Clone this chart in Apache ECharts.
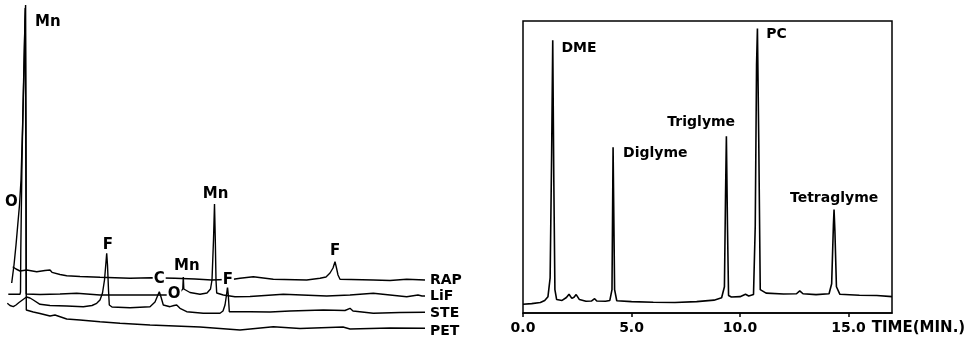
<!DOCTYPE html>
<html>
<head>
    <meta charset="UTF-8">
    <title>Spectra and chromatogram</title>
    <script src="https://cdn.jsdelivr.net/npm/echarts@6/dist/echarts.min.js"></script>
    <style>
        html, body { margin: 0; padding: 0; background: #fff; }
        #main { width: 976px; height: 343px; }
    </style>
</head>
<body>
    <div id="main"></div>
    <script type="text/javascript">
        // left panel: X-ray spectra, [channel, counts]
        var rapTrace = [[12.7,76.3],[16,74],[20,72],[26.7,73],[36.7,71.3],[45,72.5],[50,73],[52,70.7],[60,68.5],[66.7,67.3],[80,66.5],[100,65.7],[130,64.7],[151.7,65.3],[175,64.7],[195,64],[211.7,63],[233.3,63.7],[240,64.7],[253.3,66.3],[273.3,63.7],[306.7,63],[320,64.7],[326,66],[330,70],[333,75],[335,81.3],[336.5,75],[338,68],[340,63.7],[373.3,63],[390,62.5],[406.7,63.7],[425,63]];
        var lifTrace = [[8.3,48.7],[20,48.7],[20.5,51],[20.8,93],[22,183],[23.5,258],[25,323],[25.6,338],[26,223],[26.2,49],[26.7,48],[40,48.5],[60,49],[76.7,49.7],[78,48.5],[100,48],[120,48],[156.7,48],[170,48],[180,51],[182.8,54],[183.3,66],[183.8,54],[190,50.5],[200,48.7],[207,50],[210.5,54],[212,63],[213.5,103],[214.5,139],[215.3,103],[216,63],[216.7,50],[218,48],[223.3,48],[235,46.3],[250,46.5],[283.3,48.7],[326.7,47],[350,48],[373.3,49.7],[390,48],[406.7,46.3],[418,48],[420,49],[422,47],[425,47]];
        var steTrace = [[7.3,39.7],[10,37.5],[13.3,36.3],[16,38],[19,40.5],[20.5,42.5],[26.5,46],[30,45],[33.3,43],[40,38.7],[50,37.5],[66.7,37],[83.3,36.3],[92,37.5],[96.7,39.7],[100,43],[102.5,50],[104.5,63],[106,81],[106.7,89.7],[107.5,78],[108.5,53],[109.3,38],[112,36],[130,35.3],[150,36.3],[155,41],[157.5,47],[159.3,51.3],[161,46],[163.3,38],[170,36.3],[174,37.5],[176.7,38],[180,34.7],[186.7,31.3],[203.3,29.7],[220,29.7],[223,32],[225,38],[226.5,48],[227.5,56],[228.3,48],[229.3,31.3],[250,31.3],[270,31],[290,32],[323.3,33],[345,32.5],[350,34.7],[353,32],[373.3,29.7],[400,30.5],[425,30.7]];
        var petTrace = [[11.7,60],[14,78],[16,98],[18,121],[19.5,138],[21,163],[22.5,213],[24,273],[25.2,335],[25.7,335],[26,143],[26.3,33],[28.3,33],[33.3,31],[40,29.5],[50,27],[55,28],[66.7,24],[80,23],[100,21.3],[120,19.7],[150,18],[175,17],[200,16],[240,13],[273.3,16.3],[300,14.5],[343,16],[350,14],[390,15],[425,14.7]];
        var specNames = ['RAP', 'LiF', 'STE', 'PET'];
        // peak labels: [channel, counts, text]
        var specPeaks = [[35,321.3,'Mn'],[5,141,'O'],[102.7,97.7,'F'],[152.7,64,'C'],[166.7,49,'O'],[174,77,'Mn'],[202.7,149,'Mn'],[221.7,63,'F'],[330,92.2,'F']];
        // labels drawn over a trace need a white box
        var boxedPeaks = [3, 4, 7];

        // right panel: chromatogram, [time (min), response]
        var chromTrace = [[0,3.0],[0.4,3.2],[0.8,3.6],[1.0,4.3],[1.15,5.6],[1.25,12],[1.32,55],[1.37,93.4],[1.42,45],[1.47,8],[1.55,4.6],[1.8,4.3],[2.0,5.3],[2.12,6.4],[2.25,5.0],[2.35,5.4],[2.45,6.3],[2.6,4.6],[2.9,4.0],[3.15,4.1],[3.3,4.9],[3.4,4.1],[3.8,4.0],[4.0,4.3],[4.1,8],[4.15,56.8],[4.22,8],[4.32,4.2],[5,3.9],[6,3.7],[7,3.6],[8,3.9],[8.8,4.4],[9.15,5.2],[9.28,9],[9.33,40],[9.37,60.5],[9.42,30],[9.47,6],[9.6,5.5],[10.0,5.6],[10.25,6.4],[10.4,5.8],[10.62,6.3],[10.7,30],[10.76,85],[10.8,97.4],[10.86,60],[10.93,8],[11.2,6.8],[12,6.5],[12.6,6.6],[12.75,7.6],[12.9,6.6],[13.5,6.3],[14.1,6.6],[14.22,10],[14.3,30],[14.33,35.4],[14.37,28],[14.44,9],[14.6,6.4],[15.5,6.1],[16.3,6.0],[17,5.6]];
        var chromPeaks = [[1.77,90.6,'DME'],[4.61,54.7,'Diglyme'],[6.65,65.3,'Triglyme'],[11.21,95.3,'PC'],[12.30,39.2,'Tetraglyme']];

        var ink = '#000';
        var chart = echarts.init(document.getElementById('main'));

        var traces = [rapTrace, lifTrace, steTrace, petTrace];
        var labelShift = [0, 0, 1.5, 3.4];
        var series = traces.map(function (d, i) {
            return {
                name: specNames[i],
                type: 'line',
                xAxisIndex: 0,
                yAxisIndex: 0,
                data: d,
                symbol: 'none',
                lineStyle: { color: ink, width: 1.4 },
                endLabel: {
                    show: true,
                    formatter: '{a}',
                    color: ink,
                    fontFamily: 'DejaVu Sans',
                    fontWeight: 'bold',
                    fontSize: 14,
                    distance: 5,
                    offset: [0, labelShift[i]]
                }
            };
        });

        series.push({
            type: 'scatter',
            xAxisIndex: 0,
            yAxisIndex: 0,
            z: 10,
            symbolSize: 0,
            itemStyle: { opacity: 1 },
            data: specPeaks.map(function (p, i) {
                var boxed = boxedPeaks.indexOf(i) >= 0;
                return {
                    value: [p[0], p[1]],
                    label: {
                        show: true,
                        formatter: p[2],
                        backgroundColor: boxed ? '#fff' : 'transparent',
                        padding: boxed ? [0, 1] : 0
                    }
                };
            }),
            label: {
                position: 'right',
                distance: 0,
                color: ink,
                opacity: 1,
                fontFamily: 'DejaVu Sans',
                fontWeight: 'bold',
                fontSize: 15
            }
        });

        series.push({
            type: 'line',
            xAxisIndex: 1,
            yAxisIndex: 1,
            data: chromTrace,
            symbol: 'none',
            lineStyle: { color: ink, width: 1.6 }
        });
        series.push({
            type: 'scatter',
            xAxisIndex: 1,
            yAxisIndex: 1,
            symbolSize: 0,
            itemStyle: { opacity: 1 },
            data: chromPeaks.map(function (p) {
                return { value: [p[0], p[1]], label: { show: true, formatter: p[2] } };
            }),
            label: {
                position: 'right',
                distance: 0,
                color: ink,
                opacity: 1,
                fontFamily: 'DejaVu Sans',
                fontWeight: 'bold',
                fontSize: 14
            }
        });

        var option = {
            animation: false,
            backgroundColor: '#fff',
            grid: [
                { left: 0, top: 0, width: 430, height: 343 },
                { left: 523, right: 84, top: 21, bottom: 30, show: true, borderColor: ink, borderWidth: 1.5, backgroundColor: 'transparent' }
            ],
            xAxis: [
                { gridIndex: 0, type: 'value', min: 0, max: 430, show: false },
                {
                    gridIndex: 1, type: 'value', min: 0, max: 17, interval: 5,
                    name: 'TIME(MIN.)',
                    nameLocation: 'end',
                    nameGap: -24,
                    nameTextStyle: {
                        color: ink, fontFamily: 'DejaVu Sans', fontWeight: 'bold', fontSize: 15,
                        verticalAlign: 'top', padding: [8, 0, 0, 0]
                    },
                    axisLine: { lineStyle: { color: ink, width: 1.5 } },
                    axisTick: { length: 4, lineStyle: { color: ink, width: 1.5 } },
                    axisLabel: {
                        color: ink, fontFamily: 'DejaVu Sans', fontWeight: 'bold', fontSize: 14, margin: 8,
                        showMaxLabel: false,
                        formatter: function (v) { return v % 5 === 0 ? v.toFixed(1) : ''; }
                    },
                    splitLine: { show: false }
                }
            ],
            yAxis: [
                { gridIndex: 0, type: 'value', min: 0, max: 343, show: false },
                { gridIndex: 1, type: 'value', min: 0, max: 100, show: false }
            ],
            series: series
        };
        chart.setOption(option);
    </script>
</body>
</html>
